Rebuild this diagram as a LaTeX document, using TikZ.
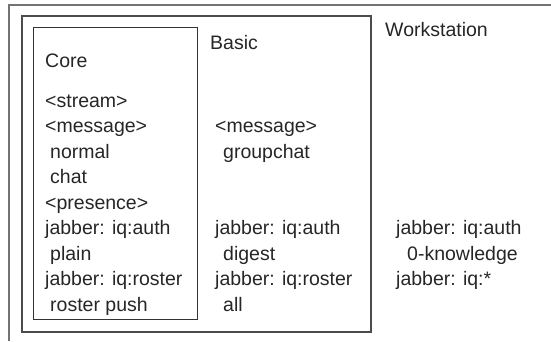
\documentclass[tikz,border=0pt]{standalone}
\usepackage{fontspec}
\setmainfont{Liberation Sans}
\begin{document}
\begin{tikzpicture}[x=1pt,y=-1pt,
  txt/.style={anchor=base west,inner sep=0pt,text=black!85,font=\fontsize{19.5}{19.5}\selectfont},
  outerline/.style={draw=black!55,line width=1.8pt},
  midline/.style={draw=black!70,line width=1.3pt},
  coreline/.style={draw=black!80,line width=0.9pt}]
\useasboundingbox (0,0) rectangle (551,341);
% boxes
\draw[outerline] (9,341) -- (9,5) -- (551,5);
\draw[midline] (22,16) rectangle (371,332);
\draw[coreline] (33,27) rectangle (197,319);
% Core column
\node[txt] (core) at (45,67) {Core};
\node[txt] (c1) at (45,107) {<stream>};
\node[txt] (c2) at (45,132.5) {<message>};
\node[txt] (c3) at (50,158) {normal};
\node[txt] (c4) at (50,183.5) {chat};
\node[txt] (c5) at (45,209) {<presence>};
\node[txt] (c6) at (45,234.5) {jabber: iq:auth};
\node[txt] (c7) at (50,260) {plain};
\node[txt] (c8) at (45,285.5) {jabber: iq:roster};
\node[txt] (c9) at (50,311) {roster push};
% Basic column
\node[txt] (basic) at (210,49) {Basic};
\node[txt] (b2) at (215,132.5) {<message>};
\node[txt] (b3) at (223,158) {groupchat};
\node[txt] (b6) at (215,234.5) {jabber: iq:auth};
\node[txt] (b7) at (223,260) {digest};
\node[txt] (b8) at (215,285.5) {jabber: iq:roster};
\node[txt] (b9) at (223,311) {all};
% Workstation column
\node[txt] (ws) at (385,36) {Workstation};
\node[txt] (w6) at (396,234.5) {jabber: iq:auth};
\node[txt] (w7) at (407,260) {0-knowledge};
\node[txt] (w8) at (396,285.5) {jabber: iq:*};
\end{tikzpicture}
\end{document}
